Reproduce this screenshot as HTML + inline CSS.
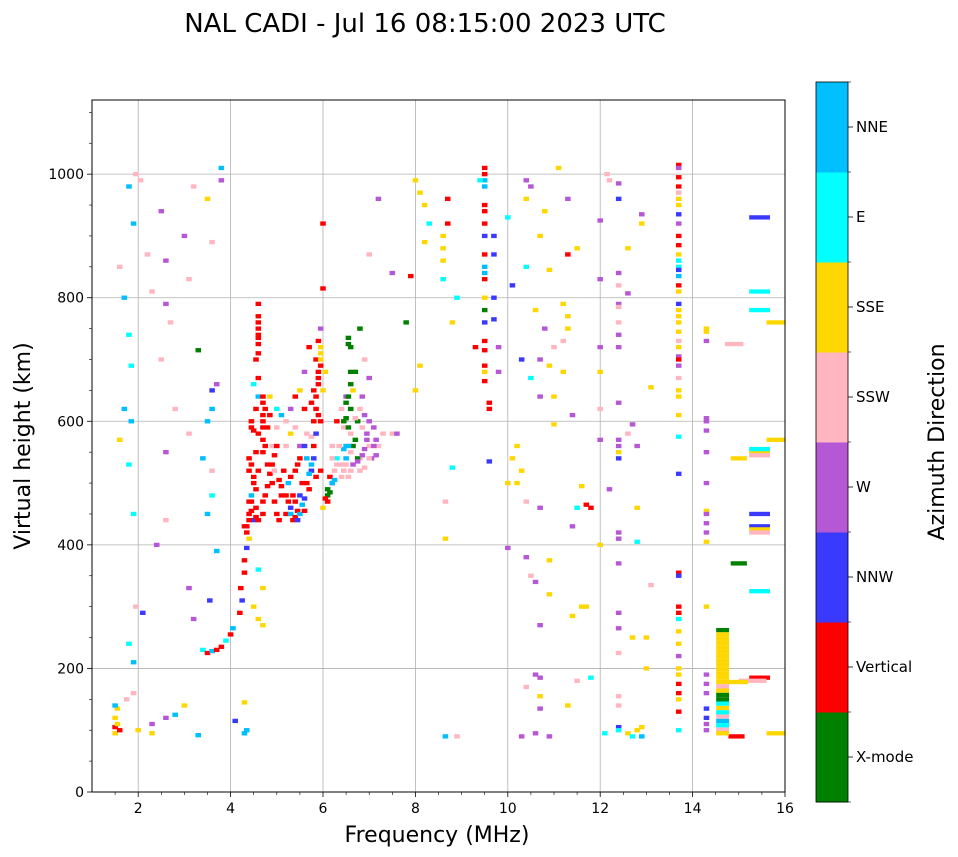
<!DOCTYPE html>
<html><head><meta charset="utf-8">
<style>
html,body{margin:0;padding:0;background:#fff;}
svg{display:block;font-family:"DejaVu Sans","Liberation Sans",sans-serif;}
</style></head>
<body>
<svg id="chart" width="958" height="857" viewBox="0 0 958 857">
<text x="425" y="32" font-size="26" text-anchor="middle">NAL CADI - Jul 16 08:15:00 2023 UTC</text>
<g id="grid"></g>
<g id="marks"></g>
<g id="axes"></g>
<g id="cbar"></g>
<text x="437" y="842" font-size="22" text-anchor="middle">Frequency (MHz)</text>
<text transform="translate(30,446) rotate(-90)" font-size="22" text-anchor="middle">Virtual height (km)</text>
<text transform="translate(944,442) rotate(-90)" font-size="22" text-anchor="middle">Azimuth Direction</text>
</svg>
<script>
const dirLabels = ["X-mode","Vertical","NNW","W","SSW","SSE","E","NNE"];
const dirColors = ["#008000","#ff0000","#3a3aff","#b657d6","#ffb6c1","#ffd700","#00ffff","#00bfff"];
const xTicks = [2,4,6,8,10,12,14,16];
const yTicks = [0,200,400,600,800,1000];
// [frequency MHz, height km, direction index, optional freq width MHz]
const marks = [
[1.5,95,5],[1.5,105,1],[1.5,120,5],[1.55,135,5],[1.5,140,7],[1.55,110,5],[1.6,100,1],
[1.75,150,4],[1.9,160,4],[2.0,100,5],[2.3,95,5],[2.3,110,3],[2.6,120,3],[2.8,125,7],[3.0,140,5],[3.3,92,7],[4.1,115,2],[4.3,95,7],[4.35,100,7],[4.3,145,5],
[1.6,850,4],[1.7,800,7],[1.8,980,7],[1.9,920,7],[1.95,1000,4],[2.05,990,4],[1.8,740,6],[1.85,690,6],[1.7,620,7],[1.85,600,7],[1.8,530,6],[1.6,570,5],[1.9,450,6],[1.95,300,4],[1.8,240,6],[1.9,210,7],[2.1,290,2],[2.2,870,4],[2.3,810,4],[2.5,940,3],[2.6,860,3],[2.6,790,3],[2.7,760,4],[2.5,700,4],[2.6,550,3],[2.8,620,4],[3.1,580,4],[3.0,900,3],[3.1,830,4],[3.2,980,4],[2.4,400,3],[2.6,440,4],[3.1,330,3],[3.2,280,3],[3.3,715,0],[3.4,540,7],[3.5,600,7],[3.6,620,7],[3.6,650,2],[3.7,660,3],[3.5,450,7],[3.6,480,6],[3.6,520,4],[3.55,310,2],[3.7,390,7],[3.8,1010,7],[3.8,990,3],[3.6,890,4],[3.5,960,5],
[3.4,230,6],[3.5,225,1],[3.6,228,7],[3.7,230,1],[3.8,235,1],[3.9,245,6],[4.0,255,1],[4.05,265,7],[4.2,290,1],[4.25,310,2],[4.22,330,1],[4.3,355,1],[4.3,375,1],[4.35,395,2],[4.4,410,5],[4.35,430,1],[4.4,450,1],[4.45,470,1],[4.5,440,2],[4.5,300,5],[4.6,280,5],[4.7,270,5],[4.7,330,5],[4.6,360,6],
[4.55,460,1],[4.55,490,1],[4.6,520,1],[4.55,550,1],[4.6,580,1],[4.55,620,1],[4.6,640,7],[4.6,670,1],[4.6,710,1],[4.6,740,1],[4.6,770,1],[4.6,790,1],[4.55,700,1],[4.5,660,6],
[4.75,560,1],[4.8,590,1],[4.75,620,1],[4.85,610,1],[4.8,530,1],[4.9,500,1],[4.95,470,1],[5.0,450,1],[5.05,440,1],[4.9,560,4],[5.0,590,4],[5.1,480,1],[5.2,450,1],[5.3,460,2],[5.25,500,7],[5.15,520,1],[5.2,560,4],[5.3,580,5],[5.35,480,1],[5.4,470,1],[5.45,455,1],[5.5,480,2],[5.55,500,1],[5.45,530,1],[5.5,560,3],[5.6,620,1],[5.5,650,5],[5.6,680,3],[5.4,640,1],[5.3,620,3],
[5.8,600,1],[5.85,640,1],[5.9,670,1],[5.85,700,1],[5.9,730,1],[5.95,690,1],[5.8,560,1],[5.75,520,2],[5.7,490,1],[5.85,510,1],[5.95,520,1],[6.0,650,5],[6.05,680,5],[5.95,750,3],[6.0,815,1],[6.0,920,1],[5.75,575,4],[5.65,540,7],
[6.1,490,0],[6.2,500,1],[6.25,520,4],[6.3,540,6],[6.4,510,4],[6.5,530,4],[6.5,560,7],[6.6,550,4],[6.7,570,0],[6.8,540,4],[6.75,600,0],[6.6,620,0],[6.65,650,5],[6.7,680,0],[6.6,720,0],[6.9,610,3],[6.95,580,3],[7.0,560,4],[7.05,540,3],[7.1,590,3],[7.2,560,4],[7.3,580,4],[6.3,600,1],[6.4,620,4],[6.5,640,3],[6.45,590,4],[6.85,640,3],[7.0,670,3],[6.9,700,4],[6.8,750,0],[7.5,580,4],[7.6,580,3],[6.1,480,0],
[4.6,760,1],[4.6,750,1],[4.6,735,1],[4.6,725,1],[4.7,640,1],[4.7,630,1],[4.7,610,1],[4.7,600,1],[4.7,590,1],[4.7,570,1],[4.7,550,1],[4.45,600,1],[4.45,590,1],[4.5,585,1],
[5.85,620,1],[5.9,610,1],[5.95,600,1],[5.9,660,1],[5.9,680,1],[5.95,710,5],[5.95,720,5],[5.95,700,5],[5.8,650,1],[5.75,630,1],[5.85,580,2],[5.7,720,1],
[6.55,735,0],[6.55,725,0],[6.6,680,0],[6.6,660,0],[6.55,640,0],[6.5,630,0],[6.5,605,0],[6.45,600,0],[6.55,590,0],[6.65,560,0],[6.75,540,0],[6.5,540,7],[6.45,555,7],[6.55,560,7],
[6.2,540,4],[6.3,530,4],[6.4,530,4],[6.2,560,4],[6.35,560,4],[6.45,520,4],[6.55,510,4],[6.6,520,4],[6.65,530,3],[6.75,535,3],[6.85,545,3],[6.9,555,3],[6.95,570,3],[6.8,520,4],[6.9,525,4],[7.0,540,4],[7.1,560,3],[7.15,570,3],[7.15,545,3],[7.0,600,3],[6.85,590,4],[6.7,605,4],[6.8,620,4],[6.6,580,4],[6.2,500,7],[6.15,485,0],[6.05,475,1],[6.1,470,1],[6.0,460,5],[6.15,510,1],[6.25,505,7],
[4.4,520,1],[4.45,530,1],[4.4,540,1],[4.5,510,1],[4.5,500,1],[4.45,480,7],[4.4,470,1],[4.45,455,1],[4.55,445,1],[4.6,440,1],[4.7,450,1],[4.7,470,1],[4.75,480,1],[4.8,495,1],[4.85,515,1],[4.9,530,1],[4.95,545,1],[5.0,560,1],[4.95,520,4],[5.05,505,1],[5.1,495,1],[5.2,480,1],[5.25,470,1],[5.3,450,7],[5.35,440,1],[5.4,445,1],[5.45,440,2],[5.5,450,7],[5.55,465,7],[5.6,475,2],[5.65,500,1],[5.7,515,7],[5.75,530,7],[5.8,540,2],[5.6,455,1],[5.3,510,1],[5.4,520,1],[5.5,540,1],[5.6,560,2],[5.65,580,4],[5.4,590,4],[5.2,600,4],[5.1,610,7],[5.0,620,6],[4.85,640,5],[4.3,430,1],[4.35,420,1],[4.4,440,1],
[7.0,870,4],[7.2,960,3],[7.5,840,3],[7.8,760,0],[7.9,835,1],[8.0,990,5],[8.1,970,5],[8.2,950,5],[8.3,920,6],[8.2,890,5],[8.6,900,5],[8.6,880,5],[8.7,960,1],[8.7,920,1],[8.6,860,5],[8.6,830,6],[8.9,800,6],[8.8,760,5],[8.1,690,5],[8.0,650,5],[8.8,525,6],[8.65,470,4],[8.65,410,5],[8.65,90,7],[8.9,90,4],
[9.5,1010,1],[9.5,1000,1],[9.5,990,7],[9.5,980,7],[9.4,990,6],[9.5,950,1],[9.5,940,1],[9.5,920,1],[9.5,900,2],[9.5,870,1],[9.5,850,7],[9.5,840,7],[9.5,830,1],[9.5,800,5],[9.5,780,0],[9.5,760,2],[9.5,730,1],[9.5,715,1],[9.5,690,1],[9.5,680,5],[9.5,665,1],[9.6,630,1],[9.6,620,1],[9.7,900,2],[9.7,870,2],[9.7,800,2],[9.7,765,2],[9.8,720,3],[9.8,680,3],[9.6,535,2],[9.3,720,1],
[10.0,395,3],[10.0,500,5],[10.1,540,5],[10.2,560,5],[10.3,520,5],[10.4,470,4],[10.7,460,3],[10.4,380,3],[10.5,350,4],[10.6,340,3],[10.7,270,3],[10.9,320,5],[10.4,170,4],[10.6,190,3],[10.7,185,3],[10.7,155,5],[10.7,135,3],[10.3,90,3],[10.6,95,3],[10.9,90,3],[10.1,820,2],[10.0,930,6],[10.4,990,3],[10.5,980,3],[10.4,960,5],[10.8,940,5],[10.4,850,6],[10.7,900,5],[10.9,845,5],[10.8,750,3],[10.6,780,5],[10.7,700,3],[10.9,690,5],[10.3,700,2],[10.5,670,6],[11.0,720,4],[11.2,730,4],[11.3,770,5],[11.2,790,5],[11.3,750,5],[11.1,1010,5],[11.3,960,3],[11.3,870,1],[11.5,880,5],[11.2,680,5],[11.4,610,3],[11.0,640,5],[10.7,640,3],[11.0,595,5],[11.4,430,3],[11.5,460,6],[11.6,495,5],[11.7,465,1],[11.8,460,1],[11.6,300,5],[11.7,300,5],[11.4,285,5],[11.5,180,4],[11.8,185,6],[11.3,140,5],[10.9,375,5],[10.2,500,5],
[12.0,680,5],[12.0,720,3],[12.0,830,3],[12.0,925,3],[12.15,1000,4],[12.2,990,4],[12.4,985,3],[12.4,960,2],[12.4,840,3],[12.4,820,4],[12.4,790,3],[12.4,785,4],[12.4,760,4],[12.4,740,3],[12.4,720,3],[12.4,630,3],[12.4,570,3],[12.4,560,3],[12.4,550,5],[12.4,540,2],[12.4,420,3],[12.4,410,3],[12.4,370,3],[12.4,290,3],[12.4,265,3],[12.4,225,4],[12.4,155,4],[12.4,140,4],[12.4,105,2],[12.4,100,6],[12.6,807,3],[12.6,880,5],[12.7,595,3],[12.6,580,4],[12.8,560,3],[12.8,405,6],[12.8,460,5],[12.7,250,5],[12.6,95,5],[12.8,100,5],[12.7,90,6],[12.9,105,5],[12.9,90,7],[13.0,200,5],[13.0,250,5],[13.1,335,4],[13.1,655,5],[12.9,920,5],[12.9,935,3],[12.1,95,6],[12.2,490,3],[12.0,400,5],[12.0,570,3],[12.0,620,4],
[13.7,1015,1],[13.7,1010,3],[13.7,995,1],[13.7,980,1],[13.7,970,4],[13.7,960,5],[13.7,950,5],[13.7,935,2],[13.7,920,3],[13.7,900,1],[13.7,885,1],[13.7,870,5],[13.7,860,6],[13.7,850,6],[13.7,845,2],[13.7,835,7],[13.7,820,1],[13.7,810,5],[13.7,790,2],[13.7,780,5],[13.7,770,5],[13.7,760,5],[13.7,745,5],[13.7,730,4],[13.7,720,5],[13.7,705,3],[13.7,700,1],[13.7,690,3],[13.7,670,4],[13.7,650,5],[13.7,640,5],[13.7,610,5],[13.7,575,6],[13.7,515,2],[13.7,355,1],[13.7,350,2],[13.7,300,1],[13.7,290,1],[13.7,280,6],[13.7,260,5],[13.7,240,5],[13.7,220,3],[13.7,200,5],[13.7,190,5],[13.7,175,1],[13.7,160,1],[13.7,150,5],[13.7,130,1],[13.7,100,6],
[14.3,750,5],[14.3,745,5],[14.3,730,3],[14.3,605,3],[14.3,600,3],[14.3,585,3],[14.3,550,3],[14.3,500,3],[14.3,455,5],[14.3,450,3],[14.3,435,3],[14.3,420,3],[14.3,405,5],[14.3,300,5],[14.3,190,3],[14.3,175,3],[14.3,160,3],[14.3,135,2],[14.3,120,2],[14.3,110,3],[14.3,100,3],
[14.9,725,4,0.4],[15.0,540,5,0.35],[15.45,550,5,0.45],[15.45,555,6,0.45],[15.45,545,4,0.45],[15.45,450,2,0.45],[15.45,430,2,0.45],[15.45,425,5,0.45],[15.45,420,4,0.45],[15.45,930,2,0.45],[15.45,810,6,0.45],[15.45,780,6,0.45],[15.0,370,0,0.35],[15.45,325,6,0.45],[15.45,185,1,0.45],[15.3,180,4,0.6],[14.95,178,5,0.5],[14.95,90,1,0.35],[15.8,760,5,0.4],[15.8,570,5,0.4],[15.8,95,5,0.4],
[14.65,262,0,0.28],[14.65,255,5,0.28],[14.65,248,5,0.28],[14.65,241,5,0.28],[14.65,234,5,0.28],[14.65,227,5,0.28],[14.65,220,5,0.28],[14.65,213,5,0.28],[14.65,206,5,0.28],[14.65,199,5,0.28],[14.65,192,5,0.28],[14.65,185,5,0.28],[14.65,178,5,0.28],[14.65,171,4,0.28],[14.65,164,5,0.28],[14.65,157,0,0.28],[14.65,150,0,0.28],[14.65,143,6,0.28],[14.65,136,5,0.28],[14.65,129,6,0.28],[14.65,122,4,0.28],[14.65,115,7,0.28],[14.65,108,6,0.28],[14.65,101,4,0.28],[14.65,95,5,0.28]
];
const freq = marks.map(m => m[0]);
const height = marks.map(m => m[1]);
const dir = marks.map(m => m[2]);
const fwidth = marks.map(m => m[3] || 0.12);

const NS = "http://www.w3.org/2000/svg";
const L = 92, R = 785, T = 100, B = 792;
const xMin = 1, xMax = 16, yMin = 0, yMax = 1120;
const xs = f => L + (f - xMin) / (xMax - xMin) * (R - L);
const ys = h => B - (h - yMin) / (yMax - yMin) * (B - T);
function el(tag, attrs, parent) {
  const e = document.createElementNS(NS, tag);
  for (const k in attrs) e.setAttribute(k, attrs[k]);
  parent.appendChild(e);
  return e;
}
const grid = document.getElementById('grid');
const marksG = document.getElementById('marks');
const axes = document.getElementById('axes');
const cbar = document.getElementById('cbar');

xTicks.forEach(t => {
  const x = xs(t);
  if (t < xMax) {
    const g = el('line', {x1:x, x2:x, y1:T, y2:B, stroke:'#b0b0b0', 'stroke-width':0.8}, grid);
    
    
  }
  el('line', {x1:x, x2:x, y1:B, y2:B+5, stroke:'#000', 'stroke-width':0.8}, axes);
  const tx = el('text', {x:x, y:B+21, 'font-size':14, 'text-anchor':'middle'}, axes);
  tx.textContent = t;
  
  
});
for (let f = 1.5; f < xMax; f += 0.5) {
  if (Math.abs(f - Math.round(f / 2) * 2) < 1e-6) continue;
  el('line', {x1:xs(f), x2:xs(f), y1:B, y2:B+3, stroke:'#000', 'stroke-width':0.6}, axes);
}
yTicks.forEach(t => {
  const y = ys(t);
  if (t > yMin) {
    const g = el('line', {x1:L, x2:R, y1:y, y2:y, stroke:'#b0b0b0', 'stroke-width':0.8}, grid);
    
    
  }
  el('line', {x1:L-5, x2:L, y1:y, y2:y, stroke:'#000', 'stroke-width':0.8}, axes);
  const tx = el('text', {x:L-8, y:y+5, 'font-size':14, 'text-anchor':'end'}, axes);
  tx.textContent = t;
  
  
});
for (let h = 50; h < yMax; h += 50) {
  if (h % 200 === 0) continue;
  el('line', {x1:L-3, x2:L, y1:ys(h), y2:ys(h), stroke:'#000', 'stroke-width':0.6}, axes);
}

const cellH = 7;
for (let i = 0; i < freq.length; i++) {
  const x0 = xs(freq[i] - fwidth[i] / 2), x1 = xs(freq[i] + fwidth[i] / 2);
  const y0 = ys(height[i] + cellH / 2), y1 = ys(height[i] - cellH / 2);
  const r = el('rect', {x:x0, y:y0, width:x1 - x0, height:y1 - y0, fill:dirColors[dir[i]]}, marksG);
  
  
}

const frame = el('rect', {x:L, y:T, width:R-L, height:B-T, fill:'none', stroke:'#000', 'stroke-width':1}, axes);



const cbL = 816, cbR = 848, cbT = 82, cbB = 802;
const seg = (cbB - cbT) / dirLabels.length;
dirLabels.forEach((lab, i) => {
  const yTop = cbB - (i + 1) * seg;
  const r = el('rect', {x:cbL, y:yTop, width:cbR-cbL, height:seg + 0.5, fill:dirColors[i]}, cbar);
  
  
  const yc = yTop + seg / 2;
  el('line', {x1:cbR, x2:cbR+5, y1:yc, y2:yc, stroke:'#000', 'stroke-width':0.8}, cbar);
  const tx = el('text', {x:cbR+8, y:yc+5, 'font-size':15}, cbar);
  tx.textContent = lab;
  
  
});
for (let i = 0; i <= dirLabels.length; i++) {
  el('line', {x1:cbR, x2:cbR+3, y1:cbB - i*seg, y2:cbB - i*seg, stroke:'#000', 'stroke-width':0.6}, cbar);
}
el('rect', {x:cbL, y:cbT, width:cbR-cbL, height:cbB-cbT, fill:'none', stroke:'#000', 'stroke-width':0.8}, cbar);
</script>
</body></html>
